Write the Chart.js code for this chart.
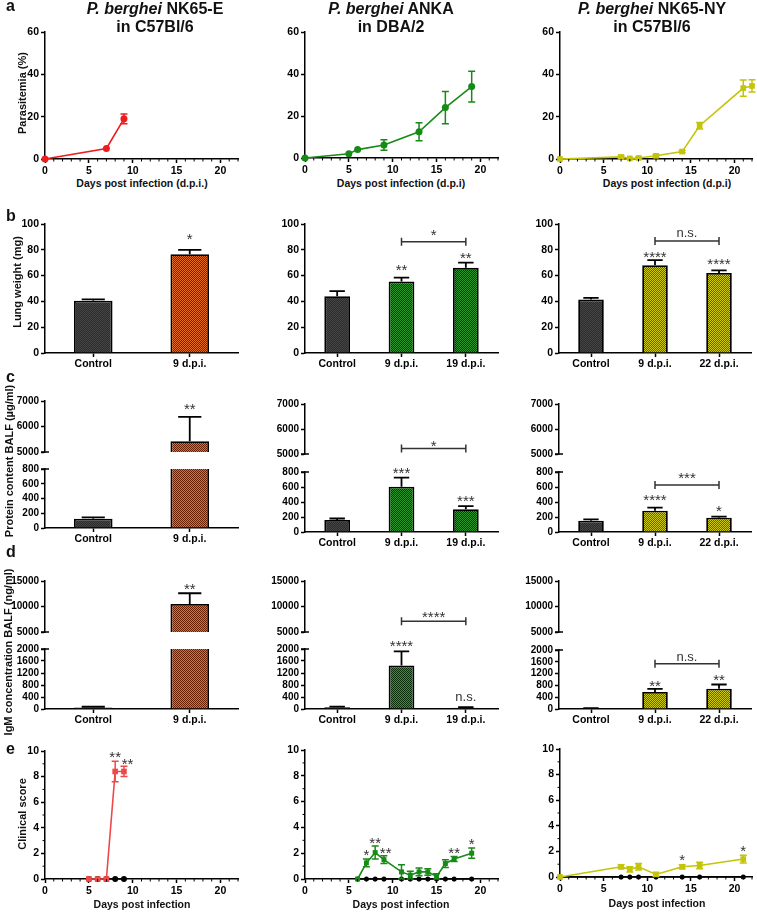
<!DOCTYPE html>
<html>
<head>
<meta charset="UTF-8">
<title>P. berghei infection panels</title>
<script src="https://cdn.jsdelivr.net/npm/chart.js"></script>
<style>
  body { margin: 0; background: #fff; width: 757px; height: 912px; position: relative; overflow: hidden;
         font-family: "Liberation Sans", Arial, sans-serif; }
  canvas { position: absolute; }
  .t { position: absolute; font-weight: bold; color: #111; white-space: nowrap; z-index: 5; }
  .ttl { font-size: 16px; line-height: 18px; text-align: center; transform: translateX(-50%); }
  .let { font-size: 16px; line-height: 16px; }
  .yl { font-size: 11px; transform: translate(-50%, -50%) rotate(-90deg); }
  .xl { font-size: 10.5px; transform: translate(-50%, -50%); }
</style>
</head>
<body>

<div class="t ttl" style="left:155px;top:0px"><i>P. berghei</i> NK65-E<br>in C57Bl/6</div>
<div class="t ttl" style="left:391px;top:0px"><i>P. berghei</i> ANKA<br>in DBA/2</div>
<div class="t ttl" style="left:652px;top:0px"><i>P. berghei</i> NK65-NY<br>in C57Bl/6</div>

<div class="t let" style="left:6px;top:-2px">a</div>
<div class="t let" style="left:6px;top:208px">b</div>
<div class="t let" style="left:6px;top:369px">c</div>
<div class="t let" style="left:6px;top:544px">d</div>
<div class="t let" style="left:6px;top:741px">e</div>

<div class="t yl" style="left:22px;top:93px">Parasitemia (%)</div>
<div class="t yl" style="left:17px;top:282px">Lung weight (mg)</div>
<div class="t yl" style="left:9px;top:461px">Protein content BALF (µg/ml)</div>
<div class="t yl" style="left:8px;top:652px">IgM concentration BALF (ng/ml)</div>
<div class="t yl" style="left:22px;top:814px">Clinical score</div>

<div class="t xl" style="left:142px;top:183px">Days post infection (d.p.i.)</div>
<div class="t xl" style="left:401px;top:183px">Days post infection (d.p.i)</div>
<div class="t xl" style="left:667px;top:183px">Days post infection (d.p.i)</div>
<div class="t xl" style="left:142px;top:904px">Days post infection</div>
<div class="t xl" style="left:401px;top:904px">Days post infection</div>
<div class="t xl" style="left:657px;top:903px">Days post infection</div>

<script>
  // ---------------- data ----------------
  // row a: parasitemia (%)
  const paraDaysE = [0, 7, 9];
  const paraE = [0, 5, 19];
  const paraErrE = [0, 0, 2.3];
  const paraDaysANKA = [0, 5, 6, 9, 13, 16, 19];
  const paraANKA = [0, 2, 4, 6.2, 12.5, 24, 34];
  const paraErrANKA = [0, 0, 0, 2.5, 4.3, 7.7, 7.3];
  const paraDaysNY = [0, 7, 8, 9, 11, 14, 16, 21, 22];
  const paraNY = [0, 1, 0.3, 0.5, 1.5, 3.5, 15.7, 33.5, 34.5];
  const paraErrNY = [0, 0.6, 0.3, 0.5, 0.6, 0.5, 1.5, 3.8, 2.9];

  // groups
  const groupsE = ['Control', '9 d.p.i.'];
  const groupsANKA = ['Control', '9 d.p.i.', '19 d.p.i.'];
  const groupsNY = ['Control', '9 d.p.i.', '22 d.p.i.'];

  // row b: lung weight (mg)
  const lungE = [40.5, 76.5];
  const lungErrE = [1, 3.5];
  const lungANKA = [44, 55.5, 66];
  const lungErrANKA = [4, 3, 4];
  const lungNY = [41.5, 68, 62];
  const lungErrNY = [1.3, 4, 2];

  // row c: protein content BALF (ug/ml)
  const protE = [125, 5420];
  const protErrE = [20, 960];
  const protANKA = [160, 605, 305];
  const protErrANKA = [20, 120, 40];
  const protNY = [150, 285, 190];
  const protErrNY = [18, 40, 15];

  // row d: IgM BALF (ng/ml)
  const igmE = [50, 10500];
  const igmErrE = [25, 2100];
  const igmANKA = [55, 1450, 40];
  const igmErrANKA = [25, 470, 25];
  const igmNY = [15, 580, 690];
  const igmErrNY = [10, 100, 140];

  // row e: clinical score
  const scoreDaysE = [5, 6, 7, 8, 9];
  const scoreE = [0, 0, 0, 8.4, 8.4];
  const scoreErrE = [0, 0, 0, 0.8, 0.4];
  const ctrlDaysE = [5, 6, 7, 8, 9];
  const ctrlScoreE = [0, 0, 0, 0, 0];
  const scoreDaysANKA = [6, 7, 8, 9, 11, 12, 13, 14, 15, 16, 17, 19];
  const scoreANKA = [0, 1.25, 2.05, 1.5, 0.55, 0.3, 0.55, 0.55, 0.2, 1.2, 1.55, 2.0];
  const scoreErrANKA = [0, 0.3, 0.5, 0.3, 0.55, 0.3, 0.3, 0.25, 0.2, 0.3, 0.2, 0.4];
  const ctrlDaysANKA = [6, 7, 8, 9, 11, 12, 13, 14, 15, 16, 17, 19];
  const ctrlScoreANKA = [0, 0, 0, 0, 0, 0, 0, 0, 0, 0, 0, 0];
  const scoreDaysNY = [0, 7, 8, 9, 11, 14, 16, 21];
  const scoreNY = [0, 0.8, 0.6, 0.8, 0.2, 0.8, 0.9, 1.4];
  const scoreErrNY = [0, 0.15, 0.2, 0.25, 0.15, 0.15, 0.25, 0.3];
  const ctrlDaysNY = [0, 7, 8, 9, 11, 14, 16, 21];
  const ctrlScoreNY = [0, 0, 0, 0, 0, 0, 0, 0];

  // tick labels
  const dayTicks = [0, 5, 10, 15, 20];
  const paraTicks = [0, 20, 40, 60];
  const lungTicks = [0, 20, 40, 60, 80, 100];
  const protHiTicks = [5000, 6000, 7000];
  const protLoTicks = [0, 200, 400, 600, 800];
  const igmHiTicks = [5000, 10000, 15000];
  const igmLoTicks = [0, 400, 800, 1200, 1600, 2000];
  const scoreTicks = [0, 2, 4, 6, 8, 10];

  // significance marks (x = group index or day, y = value)
  const notesLungE = [{ x: 1, y: 90.7, t: '*' }];
  const notesLungANKA = [{ b: [1, 2], y: 86.3 }, { x: 1.5, y: 94, t: '*' },
                         { x: 1, y: 66.7, t: '**' }, { x: 2, y: 76.7, t: '**' }];
  const notesLungNY = [{ b: [1, 2], y: 86.8 }, { x: 1.5, y: 93, t: 'n.s.' },
                       { x: 1, y: 77.5, t: '****' }, { x: 2, y: 71.5, t: '****' }];
  const notesProtHiE = [{ x: 1, y: 6820, t: '**' }];
  const notesProtHiANKA = [{ b: [1, 2], y: 5217 }, { x: 1.5, y: 5480, t: '*' }];
  const notesProtLoANKA = [{ x: 1, y: 840, t: '***' }, { x: 2, y: 457, t: '***' }];
  const notesProtLoNY = [{ b: [1, 2], y: 627 }, { x: 1.5, y: 773, t: '***' },
                         { x: 1, y: 467, t: '****' }, { x: 2, y: 324, t: '*' }];
  const notesIgmHiE = [{ x: 1, y: 14150, t: '**' }];
  const notesIgmHiANKA = [{ b: [1, 2], y: 7085 }, { x: 1.5, y: 8560, t: '****' }];
  const notesIgmLoANKA = [{ x: 1, y: 2220, t: '****' }, { x: 2, y: 410, t: 'n.s.' }];
  const notesIgmLoNY = [{ b: [1, 2], y: 1530 }, { x: 1.5, y: 1770, t: 'n.s.' },
                        { x: 1, y: 910, t: '**' }, { x: 2, y: 1100, t: '**' }];
  const notesScoreE = [{ x: 8, y: 9.77, t: '**' }, { x: 9.4, y: 9.25, t: '**' }];
  const notesScoreANKA = [{ x: 7, y: 2.1, t: '*' }, { x: 8, y: 3.07, t: '**' }, { x: 9.2, y: 2.3, t: '**' },
                          { x: 17, y: 2.3, t: '**' }, { x: 19, y: 2.96, t: '*' }];
  const notesScoreNY = [{ x: 14, y: 1.57, t: '*' }, { x: 21, y: 2.3, t: '*' }];

  // ---------------- setup ----------------
  Chart.defaults.font.family = '"Liberation Sans", Arial, sans-serif';
  Chart.defaults.color = '#000';
  Chart.defaults.animation = false;
  Chart.defaults.plugins.legend.display = false;
  Chart.defaults.plugins.tooltip.enabled = false;

  const YW = 44, PT = 12, PR = 10;
  const cols = [[45, 238], [305, 498], [560, 752]];

  // 2x2 checker fill like the hatched bars
  function pat(c1, c2) {
    const p = document.createElement('canvas');
    p.width = 2; p.height = 2;
    const g = p.getContext('2d');
    g.fillStyle = c1; g.fillRect(0, 0, 2, 2);
    g.fillStyle = c2; g.fillRect(0, 0, 1, 1); g.fillRect(1, 1, 1, 1);
    return g.createPattern(p, 'repeat');
  }
  const fillCtrl = pat('#454545', '#2c2c2c');
  const fillOrange = pat('#e8701c', '#6a2000');
  const fillGreen = pat('#2a9a2a', '#0a300a');
  const fillYellow = pat('#d4d010', '#5e5a00');

  // error bars, drawn through the y scale
  Chart.register({
    id: 'errBars',
    afterDatasetsDraw(chart) {
      const ctx = chart.ctx, a = chart.chartArea, y = chart.scales.y;
      chart.data.datasets.forEach((ds, i) => {
        if (!ds.errs) return;
        const meta = chart.getDatasetMeta(i);
        const isBar = meta.type === 'bar';
        ctx.save();
        if (isBar) { ctx.beginPath(); ctx.rect(a.left, a.top - 1, a.right - a.left, a.bottom - a.top + 1); ctx.clip(); }
        ctx.strokeStyle = isBar ? '#000' : ds.borderColor;
        ctx.lineWidth = isBar ? 1.8 : 1.5;
        meta.data.forEach((el, j) => {
          const e = ds.errs[j];
          if (!e) return;
          const v = isBar ? ds.data[j] : ds.data[j].y;
          const top = y.getPixelForValue(v + e);
          const bot = isBar ? y.getPixelForValue(v) : y.getPixelForValue(v - e);
          const hw = isBar ? el.width * 0.3 : 3.5;
          ctx.beginPath();
          ctx.moveTo(el.x, top); ctx.lineTo(el.x, bot);
          ctx.moveTo(el.x - hw, top); ctx.lineTo(el.x + hw, top);
          if (!isBar) { ctx.moveTo(el.x - hw, bot); ctx.lineTo(el.x + hw, bot); }
          ctx.stroke();
        });
        ctx.restore();
      });
    }
  });

  function notesPlugin(notes) {
    return {
      id: 'notes',
      afterDraw(chart) {
        const ctx = chart.ctx, x = chart.scales.x, y = chart.scales.y;
        ctx.save();
        ctx.fillStyle = '#333'; ctx.strokeStyle = '#333'; ctx.lineWidth = 1.5;
        ctx.textAlign = 'center'; ctx.textBaseline = 'alphabetic';
        notes.forEach(n => {
          const py = y.getPixelForValue(n.y);
          if (n.b) {
            const x1 = x.getPixelForValue(n.b[0]), x2 = x.getPixelForValue(n.b[1]);
            ctx.beginPath();
            ctx.moveTo(x1, py); ctx.lineTo(x2, py);
            ctx.moveTo(x1, py - 4); ctx.lineTo(x1, py + 4);
            ctx.moveTo(x2, py - 4); ctx.lineTo(x2, py + 4);
            ctx.stroke();
          } else if (n.t.indexOf('*') >= 0) {
            ctx.font = '15px "Liberation Sans", Arial, sans-serif';
            ctx.fillText(n.t, x.getPixelForValue(n.x), py + 8.5);
          } else {
            ctx.font = '13px "Liberation Sans", Arial, sans-serif';
            ctx.fillText(n.t, x.getPixelForValue(n.x), py + 4);
          }
        });
        ctx.restore();
      }
    };
  }

  function minorPlugin(xStep, yStep) {
    return {
      id: 'minor',
      afterDraw(chart) {
        const ctx = chart.ctx, a = chart.chartArea, x = chart.scales.x, y = chart.scales.y;
        ctx.save();
        ctx.strokeStyle = '#000'; ctx.lineWidth = 1;
        ctx.beginPath();
        if (xStep) for (let v = x.min; v <= x.max; v += xStep) {
          if (dayTicks.indexOf(v) >= 0) continue;
          const px = x.getPixelForValue(v);
          ctx.moveTo(px, a.bottom); ctx.lineTo(px, a.bottom + 2.5);
        }
        if (yStep) for (let v = y.min; v <= y.max; v += yStep) {
          if (scoreTicks.indexOf(v) >= 0) continue;
          const py = y.getPixelForValue(v);
          ctx.moveTo(a.left, py); ctx.lineTo(a.left - 2.5, py);
        }
        ctx.stroke();
        ctx.restore();
      }
    };
  }

  function breakPlugin(where) {
    return {
      id: 'brk',
      afterDraw(chart) {
        const ctx = chart.ctx, a = chart.chartArea;
        const py = where === 'bottom' ? a.bottom : a.top;
        ctx.save();
        ctx.strokeStyle = '#000'; ctx.lineWidth = 1.5;
        ctx.beginPath(); ctx.moveTo(a.left - 4, py); ctx.lineTo(a.left + 4, py); ctx.stroke();
        ctx.restore();
      }
    };
  }

  function place(cx, cy, xh) {
    const c = document.createElement('canvas');
    const w = cx[1] - cx[0] + YW + PR, h = cy[1] - cy[0] + PT + xh;
    c.style.left = (cx[0] - YW) + 'px';
    c.style.top = (cy[0] - PT) + 'px';
    c.width = w; c.height = h;
    c.style.width = w + 'px'; c.style.height = h + 'px';
    document.body.appendChild(c);
    return c;
  }

  const tickFont = { size: 10.5, weight: 'bold' };
  const smallTickFont = { size: 10, weight: 'bold' };

  function axisY(min, max, ticks) {
    return {
      type: 'linear', min: min, max: max,
      afterBuildTicks: s => { s.ticks = ticks.map(v => ({ value: v })); },
      afterFit: s => { s.width = YW; },
      grid: { drawOnChartArea: false, tickLength: 4, tickColor: '#000', tickWidth: 1.5 },
      border: { color: '#000', width: 1.5 },
      ticks: { font: max > 100 ? smallTickFont : tickFont, color: '#000', padding: 2, autoSkip: false,
               callback: v => String(v) }
    };
  }

  function axisX(xh, show, linear) {
    const ax = {
      display: show,
      afterFit: s => { s.height = xh; },
      grid: { drawOnChartArea: false, offset: false, tickLength: 4, tickColor: '#000', tickWidth: 1.5 },
      border: { color: '#000', width: 1.5 },
      ticks: { font: tickFont, color: '#000', padding: 1, maxRotation: 0, autoSkip: false }
    };
    if (linear) {
      ax.type = 'linear'; ax.min = 0; ax.max = 22;
      ax.afterBuildTicks = s => { s.ticks = dayTicks.map(v => ({ value: v })); };
      ax.ticks.padding = 2;
    } else {
      ax.type = 'category'; ax.offset = true;
    }
    return ax;
  }

  function barChart(cx, cy, xh, labels, vals, errs, fills, min, max, ticks, notes, brk) {
    const plugins = [notesPlugin(notes)];
    if (brk) plugins.push(breakPlugin(brk));
    new Chart(place(cx, cy, xh), {
      type: 'bar',
      data: {
        labels: labels,
        datasets: [{
          data: vals, errs: errs, backgroundColor: fills,
          borderColor: '#000', borderWidth: 1.8,
          barPercentage: 0.4, categoryPercentage: 1
        }]
      },
      options: {
        responsive: false,
        layout: { autoPadding: false, padding: { top: PT, right: PR, left: 0, bottom: 0 } },
        scales: { x: axisX(xh, xh > 0, false), y: axisY(min, max, ticks) }
      },
      plugins: plugins
    });
  }

  function series(days, vals, errs, color, style, r) {
    return {
      data: days.map((d, i) => ({ x: d, y: vals[i] })),
      errs: errs, borderColor: color, backgroundColor: color,
      pointStyle: style, pointRadius: r, pointBorderWidth: 0,
      borderWidth: 1.6, clip: false
    };
  }

  function lineChart(cx, cy, xh, max, ticks, sets, notes, yMinor) {
    new Chart(place(cx, cy, xh), {
      type: 'line',
      data: { datasets: sets },
      options: {
        responsive: false,
        layout: { autoPadding: false, padding: { top: PT, right: PR, left: 0, bottom: 0 } },
        scales: { x: axisX(xh, true, true), y: axisY(0, max, ticks) }
      },
      plugins: [notesPlugin(notes), minorPlugin(1, yMinor ? 1 : 0)]
    });
  }

  // ---------------- row a ----------------
  lineChart(cols[0], [32, 159], 18, 60, paraTicks,
    [series(paraDaysE, paraE, paraErrE, '#ee1c1c', 'circle', 3.5)], [], false);
  lineChart(cols[1], [32, 158], 18, 60, paraTicks,
    [series(paraDaysANKA, paraANKA, paraErrANKA, '#178a17', 'circle', 3.5)], [], false);
  lineChart(cols[2], [32, 159], 18, 60, paraTicks,
    [series(paraDaysNY, paraNY, paraErrNY, '#c4c40a', 'rect', 4)], [], false);

  // ---------------- row b ----------------
  barChart(cols[0], [224, 353], 20, groupsE, lungE, lungErrE, [fillCtrl, fillOrange], 0, 100, lungTicks, notesLungE);
  barChart(cols[1], [224, 353], 20, groupsANKA, lungANKA, lungErrANKA, [fillCtrl, fillGreen, fillGreen], 0, 100, lungTicks, notesLungANKA);
  barChart([559, 751], [224, 353], 20, groupsNY, lungNY, lungErrNY, [fillCtrl, fillYellow, fillYellow], 0, 100, lungTicks, notesLungNY);

  // ---------------- row c (broken axis) ----------------
  barChart(cols[0], [401, 460], 0, groupsE, protE, protErrE, [fillCtrl, fillOrange], 5000, 7000, protHiTicks, notesProtHiE, 'bottom');
  barChart(cols[0], [469, 528], 20, groupsE, protE, protErrE, [fillCtrl, fillOrange], 0, 800, protLoTicks, [], 'top');
  barChart(cols[1], [404, 462], 0, groupsANKA, protANKA, protErrANKA, [fillCtrl, fillGreen, fillGreen], 5000, 7000, protHiTicks, notesProtHiANKA, 'bottom');
  barChart(cols[1], [472, 532], 20, groupsANKA, protANKA, protErrANKA, [fillCtrl, fillGreen, fillGreen], 0, 800, protLoTicks, notesProtLoANKA, 'top');
  barChart([559, 751], [404, 462], 0, groupsNY, protNY, protErrNY, [fillCtrl, fillYellow, fillYellow], 5000, 7000, protHiTicks, [], 'bottom');
  barChart([559, 751], [472, 532], 20, groupsNY, protNY, protErrNY, [fillCtrl, fillYellow, fillYellow], 0, 800, protLoTicks, notesProtLoNY, 'top');

  // ---------------- row d (broken axis) ----------------
  barChart(cols[0], [581, 640], 0, groupsE, igmE, igmErrE, [fillCtrl, fillOrange], 5000, 15000, igmHiTicks, notesIgmHiE, 'bottom');
  barChart(cols[0], [649, 709], 20, groupsE, igmE, igmErrE, [fillCtrl, fillOrange], 0, 2000, igmLoTicks, [], 'top');
  barChart(cols[1], [581, 640], 0, groupsANKA, igmANKA, igmErrANKA, [fillCtrl, fillGreen, fillGreen], 5000, 15000, igmHiTicks, notesIgmHiANKA, 'bottom');
  barChart(cols[1], [649, 709], 20, groupsANKA, igmANKA, igmErrANKA, [fillCtrl, fillGreen, fillGreen], 0, 2000, igmLoTicks, notesIgmLoANKA, 'top');
  barChart([559, 751], [581, 640], 0, groupsNY, igmNY, igmErrNY, [fillCtrl, fillYellow, fillYellow], 5000, 15000, igmHiTicks, [], 'bottom');
  barChart([559, 751], [650, 709], 20, groupsNY, igmNY, igmErrNY, [fillCtrl, fillYellow, fillYellow], 0, 2000, igmLoTicks, notesIgmLoNY, 'top');

  // ---------------- row e ----------------
  lineChart(cols[0], [751, 879], 18, 10, scoreTicks,
    [series(scoreDaysE, scoreE, scoreErrE, '#f04848', 'rect', 4),
     series(ctrlDaysE, ctrlScoreE, null, '#000', 'circle', 3)], notesScoreE, true);
  lineChart(cols[1], [750, 879], 18, 10, scoreTicks,
    [series(scoreDaysANKA, scoreANKA, scoreErrANKA, '#178a17', 'rect', 3.5),
     series(ctrlDaysANKA, ctrlScoreANKA, null, '#000', 'circle', 2.5)], notesScoreANKA, true);
  lineChart(cols[2], [749, 877], 18, 10, scoreTicks,
    [series(scoreDaysNY, scoreNY, scoreErrNY, '#c4c40a', 'rect', 4),
     series(ctrlDaysNY, ctrlScoreNY, null, '#000', 'circle', 2.5)], notesScoreNY, true);
</script>
</body>
</html>
